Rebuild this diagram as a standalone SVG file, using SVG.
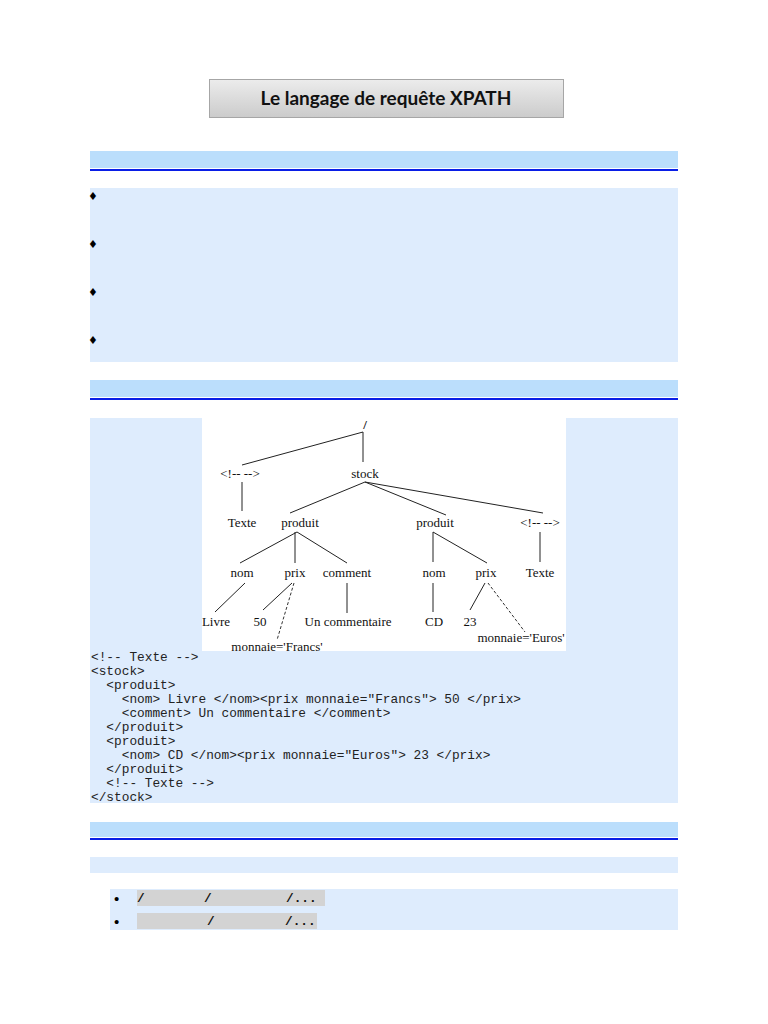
<svg xmlns="http://www.w3.org/2000/svg" width="768" height="1024" viewBox="0 0 768 1024">
<defs>
<linearGradient id="tg" x1="0" y1="0" x2="0" y2="1">
<stop offset="0" stop-color="#ececec"/>
<stop offset="1" stop-color="#cbcbcb"/>
</linearGradient>
</defs>
<style>
.hdr{fill:#bbdefc}
.panel{fill:#deecfd}
.rule{fill:#0a1ee6}
.tree{font-family:"Liberation Serif","Times New Roman",serif;font-size:13px;fill:#111;text-anchor:middle}
.code{font-family:"Liberation Mono","Courier New",monospace;font-size:12.8px;fill:#222;white-space:pre}
.dia{font-family:"DejaVu Sans",sans-serif;font-size:11px;fill:#000}
.edge{stroke:#222;stroke-width:1;fill:none}
.dash{stroke:#333;stroke-width:1;fill:none;stroke-dasharray:3,2}
.cbox{fill:#d3d3d3}
.ct{font-family:"Liberation Mono","Courier New",monospace;font-size:12.8px;font-weight:bold;fill:#111;white-space:pre}
.bul{font-family:"Liberation Sans",sans-serif;font-size:15px;fill:#000}
</style>
<rect width="768" height="1024" fill="#ffffff"/>

<g id="title">
<rect x="209.5" y="79.5" width="354" height="38" fill="url(#tg)" stroke="#a6a6a6"/>
<text x="386" y="105" font-family="Lato,'Open Sans',sans-serif" font-size="19" font-weight="bold" text-anchor="middle" fill="#111">Le langage de requête XPATH</text>
</g>

<g id="section1">
<rect class="hdr" x="90" y="151" width="588" height="18"/>
<rect fill="#ffffff" x="90" y="168" width="588" height="1"/>
<rect class="rule" x="90" y="169" width="588" height="2"/>
<rect class="panel" x="90" y="188" width="588" height="174"/>
<text class="dia" x="88" y="200">♦</text>
<text class="dia" x="88" y="248">♦</text>
<text class="dia" x="88" y="296">♦</text>
<text class="dia" x="88" y="344">♦</text>
</g>

<g id="section2">
<rect class="hdr" x="90" y="380" width="588" height="18"/>
<rect fill="#ffffff" x="90" y="397" width="588" height="1"/>
<rect class="rule" x="90" y="398" width="588" height="2"/>
<rect class="panel" x="90" y="418" width="588" height="385"/>
<rect fill="#ffffff" x="202" y="418" width="364" height="233"/>
</g>

<g id="connectors">
<line class="edge" x1="363" y1="432" x2="242" y2="465"/>
<line class="edge" x1="363" y1="432" x2="363" y2="462"/>
<line class="edge" x1="242" y1="482" x2="242" y2="511"/>
<line class="edge" x1="365" y1="482" x2="290" y2="513"/>
<line class="edge" x1="365" y1="482" x2="446" y2="515"/>
<line class="edge" x1="365" y1="482" x2="543" y2="513"/>
<line class="edge" x1="297" y1="532" x2="240" y2="563"/>
<line class="edge" x1="295" y1="532" x2="295" y2="563"/>
<line class="edge" x1="297" y1="532" x2="347" y2="563"/>
<line class="edge" x1="433" y1="532" x2="433" y2="562"/>
<line class="edge" x1="433" y1="532" x2="487" y2="563"/>
<line class="edge" x1="540" y1="532" x2="540" y2="562"/>
<line class="edge" x1="245" y1="583" x2="215" y2="612"/>
<line class="edge" x1="292" y1="583" x2="263" y2="610"/>
<line class="dash" x1="294" y1="583" x2="277" y2="640"/>
<line class="edge" x1="347" y1="583" x2="347" y2="613"/>
<line class="edge" x1="433" y1="583" x2="433" y2="612"/>
<line class="edge" x1="485" y1="583" x2="470" y2="610"/>
<line class="dash" x1="488" y1="583" x2="525" y2="632"/>
</g>

<g id="n-root"><text class="tree" x="365" y="429" font-weight="bold">/</text></g>
<g id="n-comment1"><text class="tree" x="240" y="478">&lt;!-- --&gt;</text></g>
<g id="n-stock"><text class="tree" x="365" y="478">stock</text></g>
<g id="n-texte1"><text class="tree" x="242" y="527">Texte</text></g>
<g id="n-produit1"><text class="tree" x="300" y="527">produit</text></g>
<g id="n-produit2"><text class="tree" x="435" y="527">produit</text></g>
<g id="n-comment2"><text class="tree" x="540" y="527">&lt;!-- --&gt;</text></g>
<g id="n-nom1"><text class="tree" x="242" y="577">nom</text></g>
<g id="n-prix1"><text class="tree" x="295" y="577">prix</text></g>
<g id="n-commentel"><text class="tree" x="347" y="577">comment</text></g>
<g id="n-nom2"><text class="tree" x="434" y="577">nom</text></g>
<g id="n-prix2"><text class="tree" x="486" y="577">prix</text></g>
<g id="n-texte2"><text class="tree" x="540" y="577">Texte</text></g>
<g id="n-livre"><text class="tree" x="216" y="626">Livre</text></g>
<g id="n-50"><text class="tree" x="260" y="626">50</text></g>
<g id="n-uncomm"><text class="tree" x="348" y="626">Un commentaire</text></g>
<g id="n-cd"><text class="tree" x="434" y="626">CD</text></g>
<g id="n-23"><text class="tree" x="470" y="626">23</text></g>
<g id="n-francs"><text class="tree" x="277" y="651">monnaie='Francs'</text></g>
<g id="n-euros"><text class="tree" x="521" y="642">monnaie='Euros'</text></g>

<g id="xmlcode">
<text class="code" x="91" y="661">&lt;!-- Texte --&gt;</text>
<text class="code" x="91" y="675">&lt;stock&gt;</text>
<text class="code" x="91" y="689">  &lt;produit&gt;</text>
<text class="code" x="91" y="703">    &lt;nom&gt; Livre &lt;/nom&gt;&lt;prix monnaie="Francs"&gt; 50 &lt;/prix&gt;</text>
<text class="code" x="91" y="717">    &lt;comment&gt; Un commentaire &lt;/comment&gt;</text>
<text class="code" x="91" y="731">  &lt;/produit&gt;</text>
<text class="code" x="91" y="745">  &lt;produit&gt;</text>
<text class="code" x="91" y="759">    &lt;nom&gt; CD &lt;/nom&gt;&lt;prix monnaie="Euros"&gt; 23 &lt;/prix&gt;</text>
<text class="code" x="91" y="773">  &lt;/produit&gt;</text>
<text class="code" x="91" y="787">  &lt;!-- Texte --&gt;</text>
<text class="code" x="91" y="801">&lt;/stock&gt;</text>
</g>

<g id="section3">
<rect class="hdr" x="90" y="822" width="588" height="16"/>
<rect fill="#ffffff" x="90" y="837" width="588" height="1"/>
<rect class="rule" x="90" y="838" width="588" height="2"/>
<rect class="panel" x="90" y="857" width="588" height="16"/>
<rect class="panel" x="110" y="889" width="568" height="41"/>
</g>

<g id="path1">
<text class="bul" x="114" y="904">•</text>
<rect class="cbox" x="137" y="890" width="188" height="16"/>
<text class="ct" x="137" y="902">/</text>
<text class="ct" x="204" y="902">/</text>
<text class="ct" x="286" y="902">/...</text>
</g>
<g id="path2">
<text class="bul" x="114" y="927">•</text>
<rect class="cbox" x="137" y="913" width="180" height="16"/>
<text class="ct" x="207" y="925">/</text>
<text class="ct" x="285" y="925">/...</text>
</g>
</svg>
